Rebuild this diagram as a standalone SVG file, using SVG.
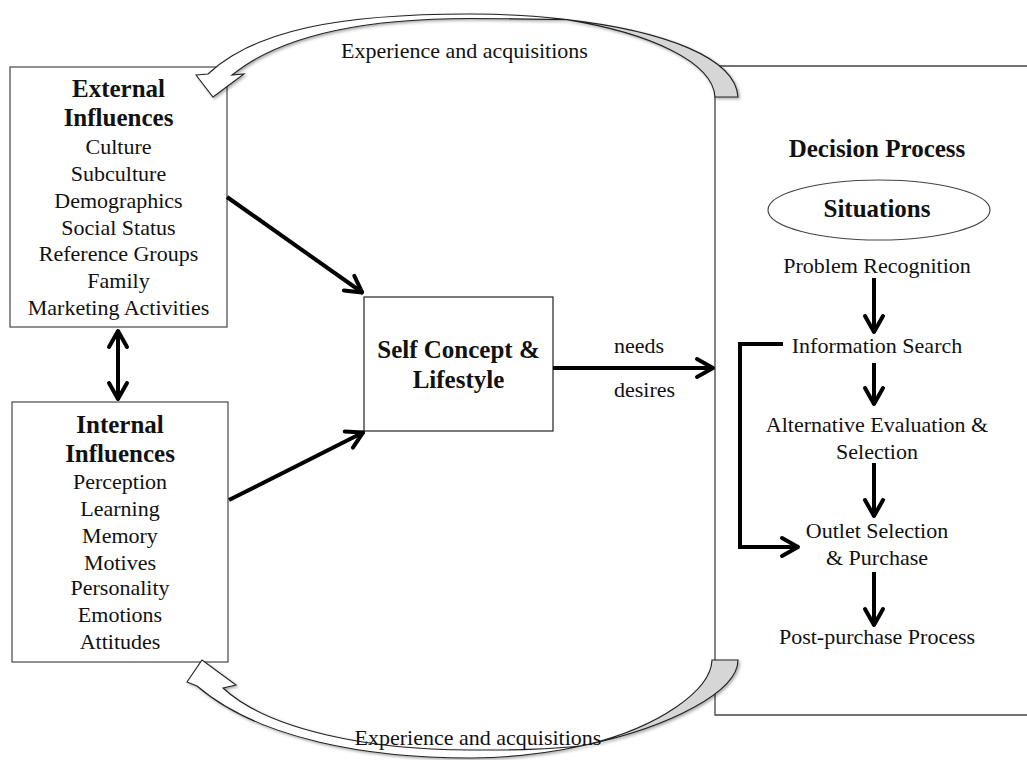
<svg xmlns="http://www.w3.org/2000/svg" width="1027" height="760" viewBox="0 0 1027 760">
  <style>
    .t { font-family: "Liberation Serif", "Times New Roman", serif; font-size: 22px; fill: #111; text-anchor: middle; }
    .b { font-weight: bold; font-size: 25px; }
    .box { fill: #fff; stroke: #555; stroke-width: 1.3; }
    .conn { fill: none; stroke: #000; stroke-width: 4; }
    .rib-w { fill: #fff; stroke: #222; stroke-width: 1.1; stroke-linejoin: miter; }
    .rib-g { fill: #d6d6d6; stroke: #222; stroke-width: 1.1; }
  </style>
  <defs>
    <marker id="head" viewBox="-22 -12 26 24" refX="0" refY="0" markerWidth="26" markerHeight="24" markerUnits="userSpaceOnUse" orient="auto-start-reverse">
      <path d="M-17,-9 L-1,0 L-17,9" fill="none" stroke="#000" stroke-width="4" stroke-linecap="round" stroke-linejoin="round"/>
    </marker>
    <filter id="soft" x="-10%" y="-20%" width="120%" height="140%">
      <feDropShadow dx="1.5" dy="1.5" stdDeviation="1.8" flood-color="#000" flood-opacity="0.35"/>
    </filter>
  </defs>

  <rect width="1027" height="760" fill="#fff"/>

  <!-- decision process panel -->
  <g id="decision-process">
    <path d="M1030,66 L715,66 L715,715 L1030,715" fill="none" stroke="#444" stroke-width="1.3"/>
    <text class="t b" x="877" y="157">Decision Process</text>
    <g id="situations">
      <ellipse cx="879" cy="210" rx="111" ry="30" fill="#fff" stroke="#444" stroke-width="1.2"/>
      <text class="t b" x="877" y="217">Situations</text>
    </g>
    <text class="t" x="877" y="273">Problem Recognition</text>
    <text class="t" x="877" y="353">Information Search</text>
    <text class="t" x="877" y="432">Alternative Evaluation &amp;</text>
    <text class="t" x="877" y="459">Selection</text>
    <text class="t" x="877" y="538">Outlet Selection</text>
    <text class="t" x="877" y="565">&amp; Purchase</text>
    <text class="t" x="877" y="644">Post-purchase Process</text>
  </g>

  <!-- external influences -->
  <g id="external-influences">
    <rect class="box" x="10" y="67" width="217" height="260"/>
    <text class="t b" x="118.5" y="97">External</text>
    <text class="t b" x="118.5" y="126">Influences</text>
    <text class="t" x="118.5" y="154">Culture</text>
    <text class="t" x="118.5" y="181">Subculture</text>
    <text class="t" x="118.5" y="208">Demographics</text>
    <text class="t" x="118.5" y="235">Social Status</text>
    <text class="t" x="118.5" y="261">Reference Groups</text>
    <text class="t" x="118.5" y="288">Family</text>
    <text class="t" x="118.5" y="315">Marketing Activities</text>
  </g>

  <!-- internal influences -->
  <g id="internal-influences">
    <rect class="box" x="12" y="402" width="216" height="260"/>
    <text class="t b" x="120" y="433">Internal</text>
    <text class="t b" x="120" y="462">Influences</text>
    <text class="t" x="120" y="489">Perception</text>
    <text class="t" x="120" y="516">Learning</text>
    <text class="t" x="120" y="543">Memory</text>
    <text class="t" x="120" y="570">Motives</text>
    <text class="t" x="120" y="595">Personality</text>
    <text class="t" x="120" y="622">Emotions</text>
    <text class="t" x="120" y="649">Attitudes</text>
  </g>

  <!-- self concept -->
  <g id="self-concept">
    <rect x="364" y="297" width="189" height="134" fill="#fff" stroke="#222" stroke-width="1.2"/>
    <text class="t b" x="458.5" y="358">Self Concept &amp;</text>
    <text class="t b" x="458.5" y="388">Lifestyle</text>
  </g>

  <!-- connectors -->
  <g id="connectors">
    <line class="conn" x1="118" y1="330" x2="118" y2="400" marker-start="url(#head)" marker-end="url(#head)"/>
    <line class="conn" x1="227" y1="197" x2="363" y2="293" marker-end="url(#head)"/>
    <line class="conn" x1="229" y1="500" x2="364" y2="432" marker-end="url(#head)"/>
    <line class="conn" x1="553" y1="368" x2="714" y2="368" marker-end="url(#head)"/>
    <text class="t" x="614" y="353" style="text-anchor:start">needs</text>
    <text class="t" x="614" y="397" style="text-anchor:start">desires</text>
    <line class="conn" x1="874" y1="278" x2="874" y2="333" marker-end="url(#head)"/>
    <line class="conn" x1="874" y1="363" x2="874" y2="405" marker-end="url(#head)"/>
    <line class="conn" x1="874" y1="463" x2="874" y2="517" marker-end="url(#head)"/>
    <line class="conn" x1="874" y1="572" x2="874" y2="626" marker-end="url(#head)"/>
    <polyline class="conn" points="783,344 740,344 740,547 799,547" marker-end="url(#head)" stroke-linejoin="miter"/>

    <!-- upper feedback ribbon -->
    <g id="feedback-top" filter="url(#soft)">
      <path class="rib-g" d="M566.3,19.6 C664.9,30.8 735.75,58 738,97 L715,97 C713,62 650,33 566.3,19.6 Z"/>
      <path class="rib-w" d="M196,75 L208,74 C255,30 340,14 470,14 C505,14 537,16 566.3,19.6 C535,19 505,18.5 470,18.5 C350,18.5 275,40 232,75 L244,74 L213,97 Z"/>
    </g>
    <text class="t" x="464.5" y="58">Experience and acquisitions</text>

    <!-- lower feedback ribbon -->
    <g id="feedback-bottom" filter="url(#soft)">
      <path class="rib-g" d="M585,745.3 C670.4,727 738,691.5 738,660 L712,660 C711,690 660,727 585,745.3 Z"/>
      <path class="rib-w" d="M187,682 L197,686 C260,740 370,758 470,758 C509,758 548.7,753.2 585,745.3 C550,750 510,750 470,750 C370,750 268,730 223,688 L236,685 L202,660 Z"/>
    </g>
    <text class="t" x="478" y="745">Experience and acquisitions</text>
  </g>
</svg>
